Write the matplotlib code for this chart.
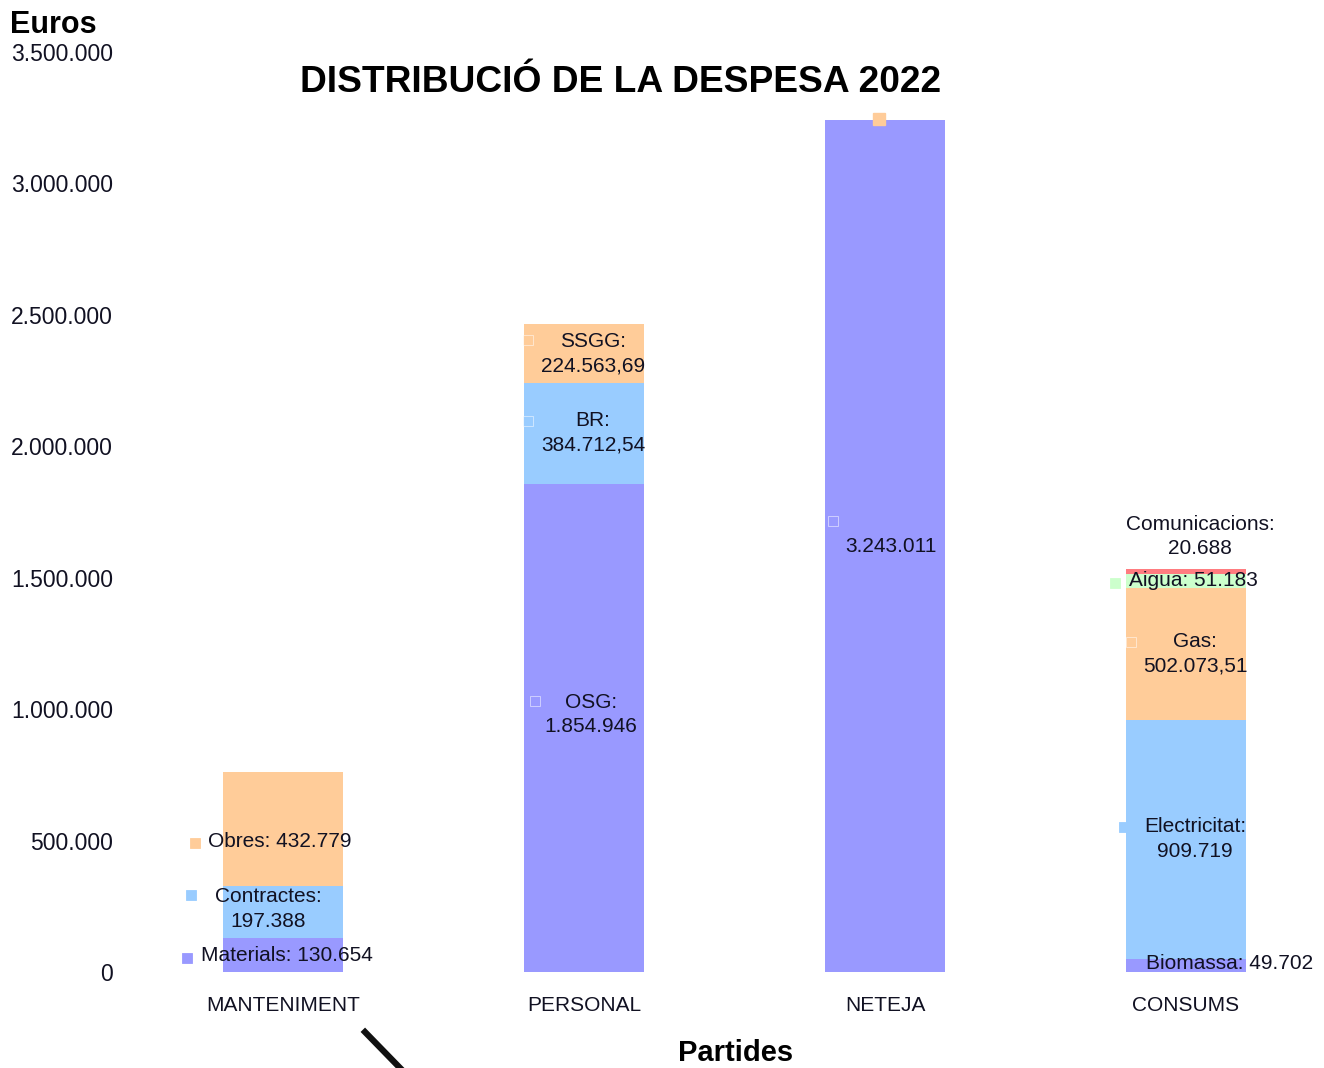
import numpy as np
import matplotlib
matplotlib.use("Agg")
import matplotlib.pyplot as plt
from matplotlib.ticker import FuncFormatter, MultipleLocator
from matplotlib.lines import Line2D
from matplotlib.transforms import ScaledTranslation

plt.rcParams['font.family'] = ['Liberation Sans', 'DejaVu Sans']

# --- data ---
categories = ['MANTENIMENT', 'PERSONAL', 'NETEJA', 'CONSUMS']

mant_names = ['Materials', 'Contractes', 'Obres']
mant_vals = [130654, 197388, 432779]

pers_names = ['OSG', 'BR', 'SSGG']
pers_vals = [1854946, 384712.54, 224563.69]

net_names = ['']
net_vals = [3243011]

cons_names = ['Biomassa', 'Electricitat', 'Gas', 'Aigua', 'Comunicacions']
cons_vals = [49702, 909719, 502073.51, 51183, 20688]

groups = [(mant_names, mant_vals), (pers_names, pers_vals),
          (net_names, net_vals), (cons_names, cons_vals)]

# colours by stack level
level_colors = ['#9999FF', '#99CCFF', '#FFCC99', '#CCFFCC', '#FF7C80']

# label layout per segment: (y in data, text dx px, ha, two lines, square dx px, square dy px, square visible)
label_layout = [
    [(61000, -82, 'left', False, -96, -2, True),
     (240000, -15, 'center', True, -92, 14, True),
     (498000, -75, 'left', False, -88, -2, True)],
    [(980000, 7, 'center', True, -49, 13, False),
     (2052000, 9, 'center', True, -56, 12, False),
     (2353000, 9, 'center', True, -56, 13, False)],
    [(1617000, 6, 'center', False, -52, 26, False)],
    [(34000, -40, 'left', False, -53, -2, True),
     (506000, 9, 'center', True, -62, 12, True),
     (1212000, 9, 'center', True, -55, 11, False),
     (1487500, -57, 'left', False, -71, -2, True),
     (1657000, 14, 'center', True, 0, 0, None)],
]


def fmt_num(v):
    if float(v).is_integer():
        s = f"{v:,.0f}"
    else:
        s = f"{v:,.2f}"
    return s.replace(",", "X").replace(".", ",").replace("X", ".")


fig = plt.figure(figsize=(13.24, 10.68), dpi=100)
ax = fig.add_axes([120 / 1324, 96 / 1068, 1 - 120 / 1324, 920 / 1068])

x = np.arange(len(categories))
width = 0.4
for i, (names, vals) in enumerate(groups):
    bottom = 0
    for j, (n, v) in enumerate(zip(names, vals)):
        ax.bar(x[i], v, width, bottom=bottom, color=level_colors[j], edgecolor='none')
        ly, tdx, ha, two, sdx, sdy, vis = label_layout[i][j]
        if n:
            txt = f"{n}:\n{fmt_num(v)}" if two else f"{n}: {fmt_num(v)}"
        else:
            txt = fmt_num(v)
        ax.annotate(txt, (x[i], ly), xytext=(tdx, 0), textcoords='offset pixels',
                    ha=ha, va='center', fontsize=15, color='#111122',
                    multialignment='center', linespacing=1.35)
        if vis is not None:
            # small legend key next to the label
            ax.plot([x[i]], [ly], marker='s', markersize=7.5, ls='none',
                    markerfacecolor=level_colors[j],
                    markeredgecolor='white' if not vis else level_colors[j],
                    markeredgewidth=0.6, alpha=1 if vis else 0.6,
                    transform=ax.transData + ScaledTranslation(
                        sdx / 100, sdy / 100, fig.dpi_scale_trans))
        bottom += v

# stray orange key on top of NETEJA bar
ax.plot([x[2]], [net_vals[0]], marker='s', markersize=9, ls='none',
        color=level_colors[2],
        transform=ax.transData + ScaledTranslation(-6 / 100, 1 / 100, fig.dpi_scale_trans),
        clip_on=False)

ax.set_ylim(0, 3500000)
ax.set_xlim(-(283 - 120) / 301, (1324 - 283) / 301)
ax.yaxis.set_major_locator(MultipleLocator(500000))
ax.yaxis.set_major_formatter(FuncFormatter(lambda v, p: fmt_num(v)))
ax.set_xticks(x)
ax.set_xticklabels(categories)
ax.tick_params(axis='y', length=0, pad=5, labelsize=16.5, labelcolor='#111122')
ax.tick_params(axis='x', length=0, pad=17, labelsize=15, labelcolor='#111122')
for s in ax.spines.values():
    s.set_visible(False)

fig.text(621 / 1324, 1 - 83 / 1068, 'DISTRIBUCIÓ DE LA DESPESA 2022',
         ha='center', va='center', fontsize=26.7, fontweight='bold')
fig.text(10 / 1324, 1 - 25 / 1068, 'Euros', ha='left', va='center',
         fontsize=22, fontweight='bold')
fig.text(736 / 1324, 1 / 1068, 'Partides', ha='center', va='bottom',
         fontsize=21, fontweight='bold')

# diagonal black stroke at bottom
fig.add_artist(Line2D([365 / 1324, 402 / 1324], [1 - 1032 / 1068, 1 - 1070 / 1068],
                      color='#111111', linewidth=4.5, transform=fig.transFigure))

fig.savefig('out.png', dpi=100)
